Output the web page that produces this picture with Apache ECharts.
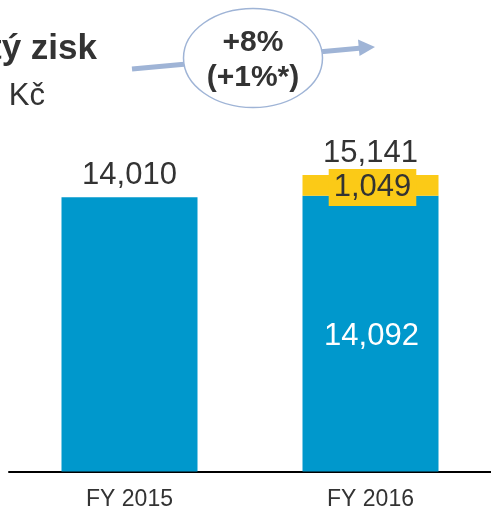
<!DOCTYPE html>
<html>
<head>
<meta charset="utf-8">
<script src="https://cdn.jsdelivr.net/npm/echarts@6/dist/echarts.min.js"></script>
<style>
  html, body { margin: 0; padding: 0; background: #fff; }
  #chart { width: 491px; height: 512px; }
</style>
</head>
<body>
<div id="chart"></div>
<script>
// Net profit, CZK millions
const categories = ['FY 2015', 'FY 2016'];
const baseProfit = [14010, 14092];
const oneOffItems = [null, 1049];
const growthText = ['+8%', '(+1%*)'];
const titleText = 'Čistý zisk';
const unitText = 'mil. Kč';

const totals = baseProfit.map((v, i) => (oneOffItems[i] == null ? null : v + oneOffItems[i]));

const BLUE = '#0098cc';
const YELLOW = '#fbca17';
const TEXT = '#333333';
const FONT = '"Liberation Sans", Arial, sans-serif';
const fmt = v => v.toLocaleString('en-US');

const chart = echarts.init(document.getElementById('chart'), null, { renderer: 'canvas' });

chart.setOption({
  animation: false,
  grid: { left: 9, top: 80, width: 485, bottom: 40.5 },
  xAxis: {
    type: 'category',
    data: categories,
    axisLine: { show: true, lineStyle: { color: '#000', width: 2 } },
    axisTick: { show: false },
    axisLabel: { color: TEXT, fontFamily: FONT, fontSize: 23, margin: 17 }
  },
  yAxis: {
    type: 'value',
    min: 0,
    max: 20000,
    show: false,
    splitLine: { show: false }
  },
  series: [
    {
      type: 'bar',
      stack: 'profit',
      barWidth: 136,
      itemStyle: { color: BLUE },
      data: baseProfit.map((v, i) => ({
        value: v,
        label: oneOffItems[i] == null
          ? { show: true, position: 'top', distance: 6, color: TEXT, fontSize: 31, fontFamily: FONT }
          : { show: true, position: 'inside', offset: [1, 3], color: '#fff', fontSize: 31, fontFamily: FONT }
      })),
      label: { formatter: p => fmt(p.value) }
    },
    {
      type: 'bar',
      stack: 'profit',
      barWidth: 136,
      itemStyle: { color: YELLOW },
      data: oneOffItems,
      label: {
        show: true,
        position: 'inside',
        offset: [2, 2],
        color: TEXT,
        fontSize: 31,
        fontFamily: FONT,
        backgroundColor: YELLOW,
        padding: [3, 5, 3, 5],
        formatter: p => fmt(p.value)
      }
    },
    {
      type: 'scatter',
      symbolSize: 0,
      itemStyle: { opacity: 1 },
      data: totals,
      label: {
        show: true,
        position: 'top',
        distance: 6,
        color: TEXT,
        opacity: 1,
        fontSize: 31,
        fontFamily: FONT,
        formatter: p => fmt(p.value)
      }
    }
  ],
  graphic: [
    {
      type: 'text',
      x: 97, y: 67,
      style: {
        text: titleText,
        fill: TEXT,
        font: 'bold 35px ' + FONT,
        textAlign: 'right',
        textVerticalAlign: 'bottom'
      }
    },
    {
      type: 'text',
      x: 45, y: 112,
      style: {
        text: unitText,
        fill: TEXT,
        font: '31px ' + FONT,
        textAlign: 'right',
        textVerticalAlign: 'bottom'
      }
    },
    {
      type: 'line',
      shape: { x1: 132, y1: 69, x2: 362, y2: 48 },
      style: { stroke: '#9fb4d6', lineWidth: 5 }
    },
    {
      type: 'polygon',
      shape: { points: [[375, 47], [358, 39.5], [359.5, 56]] },
      style: { fill: '#9fb4d6' }
    },
    {
      type: 'ellipse',
      shape: { cx: 253, cy: 58, rx: 69.5, ry: 49.5 },
      style: { fill: '#fff', stroke: '#9fb4d6', lineWidth: 1.5 }
    },
    {
      type: 'text',
      x: 253, y: 60,
      style: {
        text: growthText.join('\n'),
        fill: TEXT,
        font: 'bold 30px ' + FONT,
        lineHeight: 35,
        textAlign: 'center',
        textVerticalAlign: 'middle'
      }
    }
  ]
});
</script>
</body>
</html>
